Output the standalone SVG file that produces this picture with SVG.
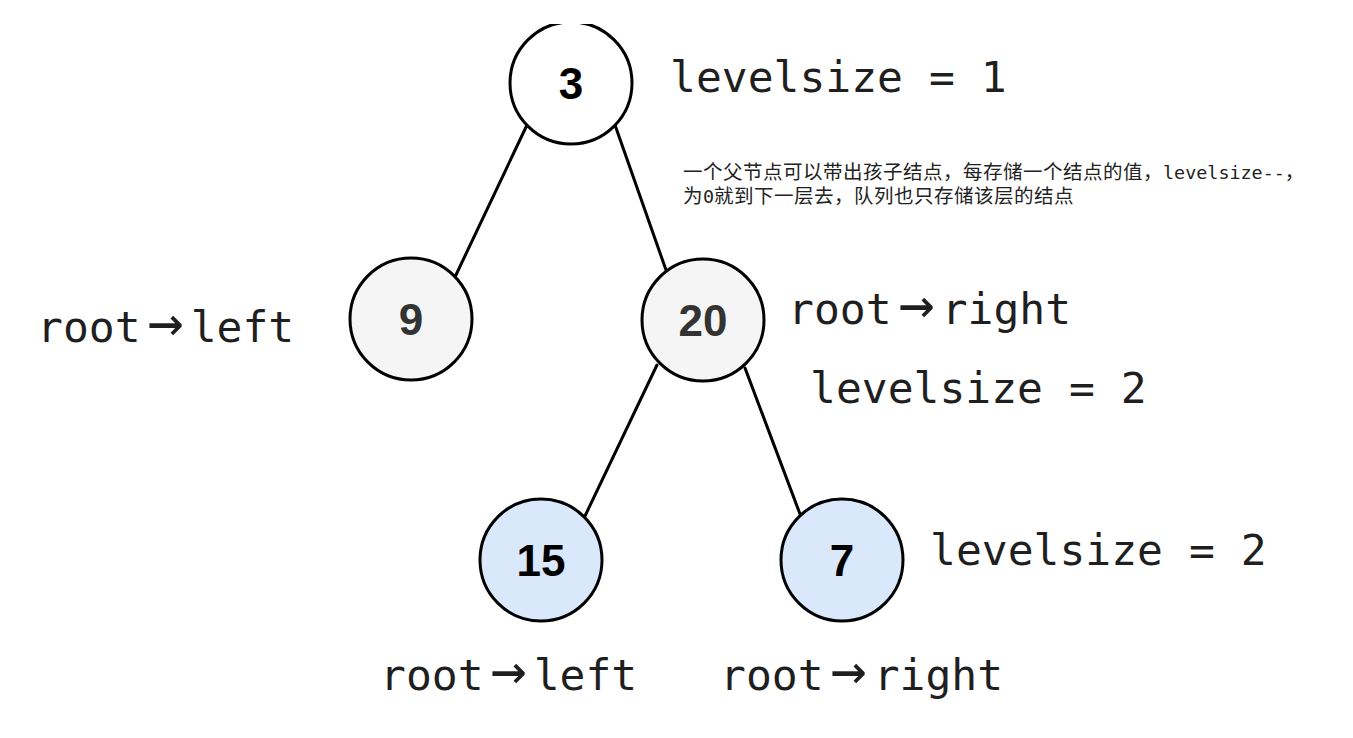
<svg xmlns="http://www.w3.org/2000/svg" width="1353" height="738" viewBox="0 0 1353 738">
<style>
.node circle{stroke:#000;stroke-width:3}
.num{font-family:"Liberation Sans",Arial,sans-serif;font-weight:bold;font-size:44px;text-anchor:middle}
.lbl{font-family:"DejaVu Sans Mono",monospace;font-size:43px;fill:#1f1f1f}
.arr{font-size:60px}
.note{font-family:"Noto Sans CJK SC",sans-serif;font-size:19.5px;letter-spacing:0.5px;fill:#222}
.mono{font-family:"DejaVu Sans Mono",monospace;font-size:18.4px;letter-spacing:0}
#edges line{stroke:#000;stroke-width:3;stroke-linecap:round}
</style>
<defs>
<clipPath id="topclip"><rect x="0" y="24" width="1353" height="714"/></clipPath>
</defs>
<rect width="1353" height="738" fill="#fff"/>
<g id="edges">
<line x1="527" y1="125" x2="455" y2="277"/>
<line x1="615" y1="125" x2="666" y2="270"/>
<line x1="657" y1="365" x2="585" y2="516"/>
<line x1="745" y1="368" x2="800" y2="514"/>
</g>
<g id="n3" class="node" clip-path="url(#topclip)">
<circle cx="571" cy="83" r="61" fill="#fff"/>
<text class="num" x="571" y="99" fill="#000">3</text>
</g>
<g id="n9" class="node">
<circle cx="411" cy="319" r="61" fill="#f5f5f5"/>
<text class="num" x="411" y="335" fill="#333">9</text>
</g>
<g id="n20" class="node">
<circle cx="703" cy="320" r="61" fill="#f5f5f5"/>
<text class="num" x="703" y="336" fill="#333">20</text>
</g>
<g id="n15" class="node">
<circle cx="541" cy="560" r="61" fill="#dae8fc"/>
<text class="num" x="541" y="576" fill="#000">15</text>
</g>
<g id="n7" class="node">
<circle cx="842" cy="560" r="61" fill="#dae8fc"/>
<text class="num" x="842" y="576" fill="#000">7</text>
</g>
<g id="labels">
<text class="lbl" x="670" y="92">levelsize = 1</text>
<text class="lbl" x="37" y="342">root<tspan class="arr" dx="7">→</tspan><tspan dx="7">left</tspan></text>
<text class="lbl" x="788" y="324">root<tspan class="arr" dx="7">→</tspan><tspan dx="7">right</tspan></text>
<text class="lbl" x="810" y="403">levelsize = 2</text>
<text class="lbl" x="930" y="565">levelsize = 2</text>
<text class="lbl" x="380" y="690">root<tspan class="arr" dx="7">→</tspan><tspan dx="7">left</tspan></text>
<text class="lbl" x="720" y="690">root<tspan class="arr" dx="7">→</tspan><tspan dx="7">right</tspan></text>
<text class="note" x="683" y="179">一个父节点可以带出孩子结点，每存储一个结点的值，<tspan class="mono">levelsize--</tspan>，</text>
<text class="note" x="683" y="203">为<tspan class="mono">0</tspan>就到下一层去，队列也只存储该层的结点</text>
</g>
</svg>
